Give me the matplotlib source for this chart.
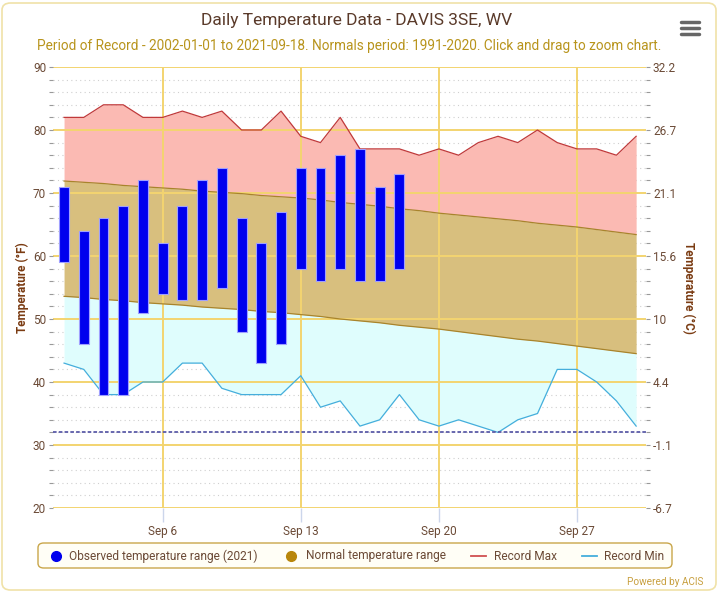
import numpy as np
import matplotlib.pyplot as plt
from matplotlib.lines import Line2D
from matplotlib.patches import FancyBboxPatch

plt.rcParams['font.family'] = ['Roboto', 'DejaVu Sans']

# September 2021, day index 0 = Sep 1
days = np.arange(30)

obs_high = [71, 64, 66, 68, 72, 62, 68, 72, 74, 66, 62, 67, 74, 74, 76, 77, 71, 73]
obs_low = [59, 46, 38, 38, 51, 54, 53, 53, 55, 48, 43, 46, 58, 56, 58, 56, 56, 58]

normal_high = [71.9, 71.7, 71.5, 71.2, 71.0, 70.8, 70.6, 70.3, 70.1, 69.9,
               69.6, 69.4, 69.2, 68.9, 68.5, 68.2, 67.9, 67.5, 67.2, 66.8,
               66.5, 66.2, 65.9, 65.6, 65.2, 64.9, 64.6, 64.2, 63.8, 63.4]
normal_low = [53.6, 53.4, 53.1, 52.9, 52.6, 52.4, 52.2, 51.9, 51.7, 51.5,
              51.2, 51.0, 50.7, 50.4, 50.0, 49.7, 49.4, 49.0, 48.7, 48.4,
              48.0, 47.6, 47.2, 46.8, 46.5, 46.1, 45.7, 45.3, 44.9, 44.5]
record_max = [82, 82, 84, 84, 82, 82, 83, 82, 83, 80,
              80, 83, 79, 78, 82, 77, 77, 77, 76, 77,
              76, 78, 79, 78, 80, 78, 77, 77, 76, 79]
record_min = [43, 42, 38, 38, 40, 40, 43, 43, 39, 38,
              38, 38, 41, 36, 37, 33, 34, 38, 34, 33,
              34, 33, 32, 34, 35, 42, 42, 40, 37, 33]

date_ticks = [5, 12, 19, 26]
date_labels = ['Sep 6', 'Sep 13', 'Sep 20', 'Sep 27']
f_ticks = [20, 30, 40, 50, 60, 70, 80, 90]
c_labels = ['-6.7', '-1.1', '4.4', '10', '15.6', '21.1', '26.7', '32.2']

W, H = 721, 593
brown = '#6b4a36'
gold = '#b8941c'

fig = plt.figure(figsize=(W / 100, H / 100), dpi=100)
ax = fig.add_axes([53 / W, 1 - 508 / H, 593 / W, 441 / H])

# shaded bands
ax.fill_between(days, normal_high, record_max, color='#fbbab3', lw=0, zorder=1)
ax.fill_between(days, normal_low, normal_high, color='#d8bf7e', lw=0, zorder=1)
ax.fill_between(days, record_min, normal_low, color='#dffdfd', lw=0, zorder=1)
ax.plot(days, normal_high, color='#a8842c', lw=0.9, zorder=2)
ax.plot(days, normal_low, color='#a8842c', lw=0.9, zorder=2)
ax.plot(days, record_max, color='#c0393a', lw=0.9, zorder=3)
ax.plot(days, record_min, color='#45aedc', lw=0.9, zorder=3)

# grid
for y in range(22, 90, 2):
    if y % 10:
        ax.axhline(y, color='#cfcfcf', lw=0.8, ls=(0, (1, 3)), zorder=0.5)
for y in f_ticks:
    ax.axhline(y, color='#f3d470', lw=1.4, zorder=1.5)
for x in date_ticks:
    ax.axvline(x, color='#f3d470', lw=1.4, zorder=1.5)

ax.axhline(32, color='#5c5ca8', lw=1.3, ls=(0, (2, 1.2)), zorder=4)

# observed bars
n = len(obs_high)
ax.bar(days[:n], np.array(obs_high) - np.array(obs_low), bottom=obs_low,
       width=0.5, color='#0000ee', edgecolor='#a0a0ff', linewidth=0.8, zorder=5)

ax.set_xlim(-0.56, 29.5)
ax.set_ylim(20, 90)
for s in ax.spines.values():
    s.set_visible(False)

ax.set_xticks(date_ticks)
ax.set_xticklabels(date_labels)
ax.tick_params(axis='x', colors='#ccd6eb', labelcolor=brown, labelsize=8.5,
               length=10, width=1, pad=2)
ax.set_yticks(f_ticks)
ax.set_yticks(range(22, 90, 2), minor=True)
ax.tick_params(axis='y', which='both', colors='#999999', labelcolor=brown,
               labelsize=8.5, length=3, width=0.8, pad=2)
ax.set_ylabel('Temperature (°F)', color='#7a3b12', fontweight='bold',
              fontsize=8.5, labelpad=3)

ax2 = ax.twinx()
ax2.set_ylim(20, 90)
for s in ax2.spines.values():
    s.set_visible(False)
ax2.set_yticks(f_ticks)
ax2.set_yticklabels(c_labels)
ax2.set_yticks(range(22, 90, 2), minor=True)
ax2.tick_params(axis='y', which='both', colors='#999999', labelcolor=brown,
                labelsize=8.5, length=3, width=0.8, pad=2)
ax2.set_ylabel('Temperature (°C)', color='#7a3b12', fontweight='bold',
               fontsize=8.5, rotation=270, labelpad=14)

# titles
fig.text(357 / W, 1 - 21 / H, 'Daily Temperature Data - DAVIS 3SE, WV',
         ha='center', va='center', fontsize=12.5, color='#5a3a2a')
fig.text(349 / W, 1 - 46 / H,
         'Period of Record - 2002-01-01 to 2021-09-18. Normals period: 1991-2020. '
         'Click and drag to zoom chart.',
         ha='center', va='center', fontsize=9.8, color=gold)

# menu icon
for yy in (22, 28, 34):
    fig.add_artist(Line2D([681 / W, 699 / W], [1 - yy / H] * 2, color='#666666',
                          lw=2.5, solid_capstyle='round'))

# outer border
fig.add_artist(FancyBboxPatch((2 / W, 3 / H), 714 / W, 587 / H,
                              boxstyle='round,pad=0,rounding_size=0.012',
                              transform=fig.transFigure, fill=False,
                              edgecolor='#f0e2a8', lw=1.2))

# legend
fig.add_artist(FancyBboxPatch((38 / W, 1 - 568 / H), 634 / W, 25 / H,
                              boxstyle='round,pad=0,rounding_size=0.008',
                              transform=fig.transFigure, facecolor='#fffef6',
                              edgecolor='#c9a64a', lw=1))
ly = 1 - 556 / H
fig.add_artist(Line2D([56 / W], [ly], marker='o', ms=7, color='#0000ee',
                      mec='#0000ee'))
fig.text(69 / W, ly, 'Observed temperature range (2021)', va='center',
         fontsize=8.6, color=brown)
fig.add_artist(Line2D([291 / W], [ly], marker='o', ms=7, color='#b8860b',
                      mec='#b8860b'))
fig.text(306 / W, ly, 'Normal temperature range', va='center',
         fontsize=8.6, color=brown)
fig.add_artist(Line2D([471 / W, 486 / W], [ly, ly], color='#d05050', lw=1.3))
fig.text(494 / W, ly, 'Record Max', va='center', fontsize=8.6, color=brown)
fig.add_artist(Line2D([582 / W, 597 / W], [ly, ly], color='#45aedc', lw=1.3))
fig.text(604 / W, ly, 'Record Min', va='center', fontsize=8.6, color=brown)

fig.text(703 / W, 1 - 582 / H, 'Powered by ACIS', ha='right', va='center',
         fontsize=7.2, color='#c8a040')

fig.savefig('out.png', dpi=100)
